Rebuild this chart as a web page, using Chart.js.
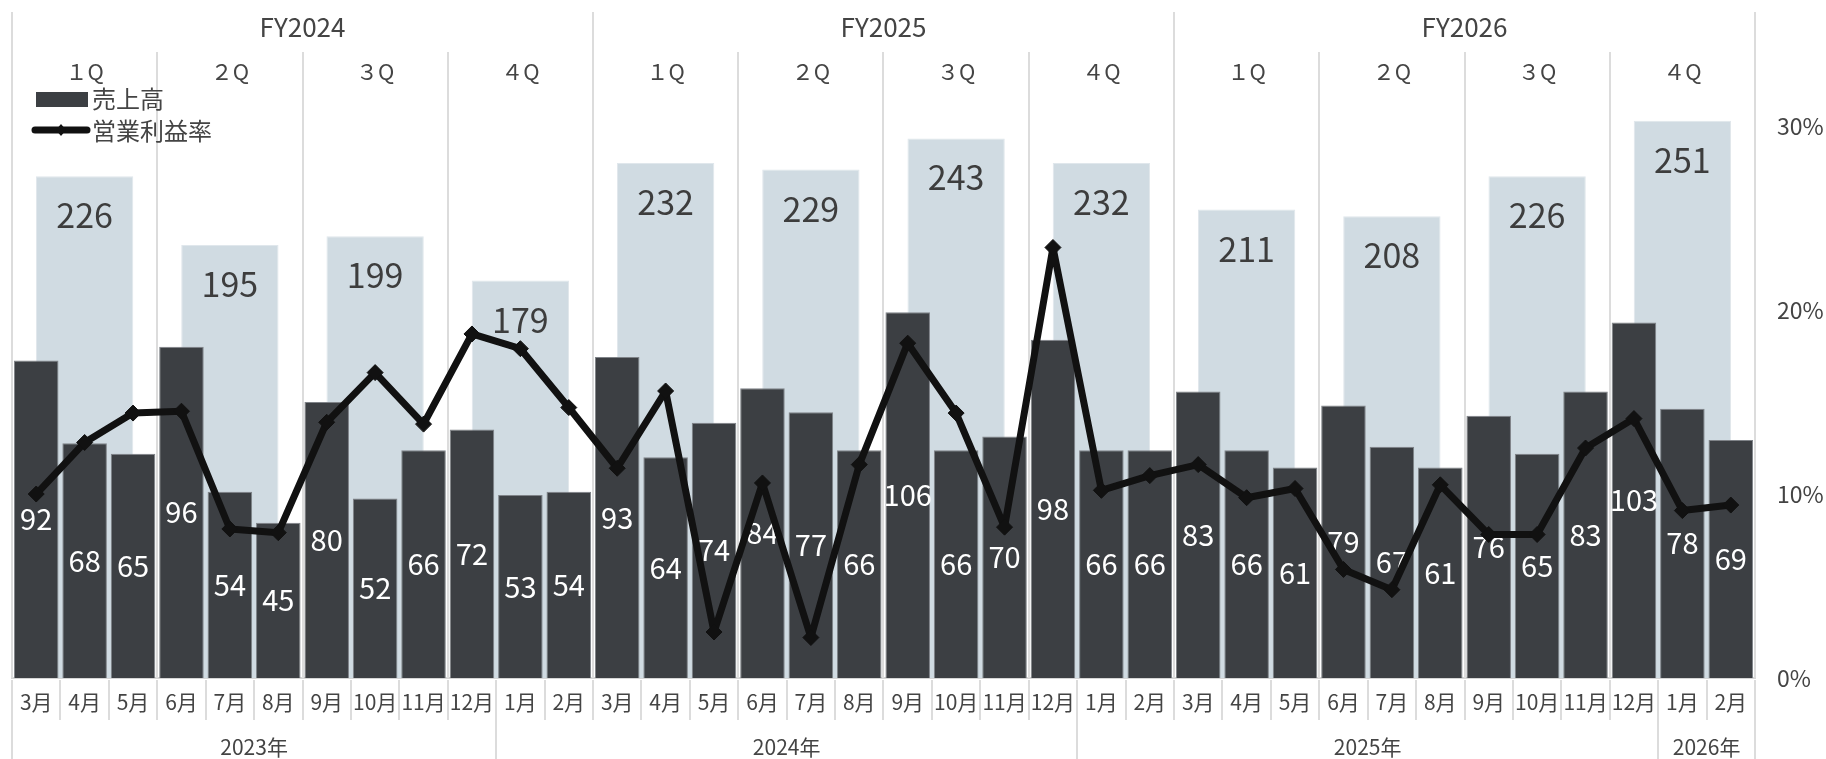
<!DOCTYPE html>
<html lang="ja">
<head>
<meta charset="utf-8">
<title>売上高・営業利益率</title>
<script src="https://cdn.jsdelivr.net/npm/chart.js@4.4.1/dist/chart.umd.min.js"></script>
<style>
  html, body { margin: 0; padding: 0; background: #fff; }
  #wrap { position: relative; width: 1826px; height: 759px; }
</style>
</head>
<body>
<div id="wrap"><canvas id="salesChart"></canvas></div>
<script>
var months = ['3月','4月','5月','6月','7月','8月','9月','10月','11月','12月',
              '1月','2月','3月','4月','5月','6月','7月','8月','9月','10月','11月','12月',
              '1月','2月','3月','4月','5月','6月','7月','8月','9月','10月','11月','12月',
              '1月','2月'];
var yearLabels = ['2023年','2024年','2025年','2026年'];
var fiscalYears = ['FY2024','FY2025','FY2026'];
var quarterNames = ['１Q','２Q','３Q','４Q'];

// 月次売上高
var monthlySales = [92, 68, 65, 96, 54, 45, 80, 52, 66, 72,
                    53, 54, 93, 64, 74, 84, 77, 66, 106, 66, 70, 98,
                    66, 66, 83, 66, 61, 79, 67, 61, 76, 65, 83, 103,
                    78, 69];
// 四半期売上高
var quarterlySales = [226, 195, 199, 179, 232, 229, 243, 232, 211, 208, 226, 251];
// 営業利益率 (%)
var marginPct = [10.0, 12.8, 14.4, 14.5, 8.1, 7.9, 13.9, 16.6, 13.8, 18.7,
                 17.9, 14.7, 11.4, 15.6, 2.5, 10.6, 2.2, 11.6, 18.2, 14.4, 8.2, 23.4,
                 10.2, 11.0, 11.6, 9.8, 10.3, 5.9, 4.8, 10.5, 7.8, 7.8, 12.5, 14.1,
                 9.1, 9.4];
var pctTicks = [0, 10, 20, 30];

var FONT = '"Noto Sans CJK JP", "Noto Sans", sans-serif';
var TEXT = '#444';
var RULE = '#dcdcdc';
var DARK = '#3c3f43';
var PALE = '#d0dbe2';
var LINE = '#111';

Chart.defaults.font.family = FONT;
Chart.defaults.color = TEXT;

var quarterKeys = [];
fiscalYears.forEach(function (fy) {
  quarterNames.forEach(function (q) { quarterKeys.push(fy + ' ' + q); });
});

function edge(scale, i) {
  // pixel of the boundary on the left of month i
  var step = scale.getPixelForValue(1) - scale.getPixelForValue(0);
  return scale.getPixelForValue(Math.min(i, months.length - 1)) + (i < months.length ? -step / 2 : step / 2);
}

// rules, fiscal-year / quarter header and calendar-year row
var framePlugin = {
  id: 'frame',
  beforeDatasetsDraw: function (chart) {
    var ctx = chart.ctx, area = chart.chartArea, x = chart.scales.x;
    var n = months.length;
    ctx.save();
    ctx.strokeStyle = RULE;
    ctx.lineWidth = 2;
    for (var i = 0; i <= n; i++) {
      var px = Math.round(edge(x, i));
      ctx.beginPath();
      if (i % 12 === 0) {
        ctx.moveTo(px, area.top);
        ctx.lineTo(px, area.bottom);
      } else if (i % 3 === 0) {
        ctx.moveTo(px, area.top + 40);
        ctx.lineTo(px, area.bottom);
      }
      var yearEdge = i === 0 || i === n || months[i] === '1月';
      ctx.moveTo(px, area.bottom + 2);
      ctx.lineTo(px, yearEdge ? chart.height : area.bottom + 42);
      ctx.stroke();
    }

    ctx.fillStyle = TEXT;
    ctx.textAlign = 'center';
    ctx.textBaseline = 'middle';
    ctx.font = '26px ' + FONT;
    fiscalYears.forEach(function (fy, k) {
      ctx.fillText(fy, (edge(x, k * 12) + edge(x, k * 12 + 12)) / 2, area.top + 15);
    });
    ctx.font = '22px ' + FONT;
    quarterKeys.forEach(function (key, k) {
      ctx.fillText(quarterNames[k % 4], (edge(x, k * 3) + edge(x, k * 3 + 3)) / 2, area.top + 60);
    });

    // calendar years start at each 1月
    var starts = [0];
    months.forEach(function (m, i) { if (i > 0 && m === '1月') starts.push(i); });
    starts.push(n);
    ctx.font = '21px ' + FONT;
    yearLabels.forEach(function (yl, k) {
      ctx.fillText(yl, (edge(x, starts[k]) + edge(x, starts[k + 1])) / 2, area.bottom + 69);
    });
    ctx.restore();
  }
};

// value labels on the bars
var valuePlugin = {
  id: 'values',
  afterDatasetDraw: function (chart, args) {
    var ds = chart.data.datasets[args.index];
    if (!ds.valueLabel) return;
    var ctx = chart.ctx, opt = ds.valueLabel;
    ctx.save();
    ctx.fillStyle = opt.color;
    ctx.font = opt.size + 'px ' + FONT;
    ctx.textAlign = 'center';
    ctx.textBaseline = 'middle';
    args.meta.data.forEach(function (bar, i) {
      var y = opt.inside ? (bar.y + bar.base) / 2 : bar.y + opt.offset;
      ctx.fillText(String(ds.data[i]), bar.x, y);
    });
    ctx.restore();
  }
};

var legendPlugin = {
  id: 'legendBox',
  afterDraw: function (chart) {
    var ctx = chart.ctx;
    var bars = chart.data.datasets[1], line = chart.data.datasets[0];
    ctx.save();
    ctx.fillStyle = bars.backgroundColor;
    ctx.fillRect(36, 92, 52, 15);
    ctx.strokeStyle = line.borderColor;
    ctx.lineWidth = 7;
    ctx.lineCap = 'round';
    ctx.beginPath();
    ctx.moveTo(35, 130);
    ctx.lineTo(87, 130);
    ctx.stroke();
    ctx.fillStyle = line.borderColor;
    ctx.beginPath();
    ctx.moveTo(61, 124); ctx.lineTo(66, 130); ctx.lineTo(61, 136); ctx.lineTo(56, 130);
    ctx.closePath();
    ctx.fill();
    ctx.fillStyle = TEXT;
    ctx.font = '24px ' + FONT;
    ctx.textAlign = 'left';
    ctx.textBaseline = 'middle';
    ctx.fillText(bars.label, 92, 99);
    ctx.fillText(line.label, 92, 131);
    ctx.restore();
  }
};

var ctx = document.getElementById('salesChart').getContext('2d');
var salesChart = new Chart(ctx, {
  type: 'bar',
  data: {
    labels: months,
    datasets: [{
      type: 'line',
      label: '営業利益率',
      data: marginPct,
      xAxisID: 'x',
      yAxisID: 'yp',
      borderColor: LINE,
      borderWidth: 7,
      borderJoinStyle: 'bevel',
      tension: 0,
      pointStyle: 'rectRot',
      pointRadius: 8,
      pointBackgroundColor: LINE,
      pointBorderColor: LINE,
      pointBorderWidth: 1,
      order: 0
    }, {
      label: '売上高',
      data: monthlySales,
      xAxisID: 'x',
      yAxisID: 'y',
      backgroundColor: DARK,
      borderColor: '#7f8388',
      borderWidth: 1,
      barPercentage: 0.92,
      categoryPercentage: 1,
      grouped: false,
      valueLabel: { color: '#fff', size: 29, inside: true },
      order: 1
    }, {
      label: '四半期売上高',
      data: quarterlySales,
      xAxisID: 'xq',
      yAxisID: 'yq',
      backgroundColor: PALE,
      borderColor: '#e0e7ec',
      borderWidth: 1,
      barPercentage: 0.67,
      categoryPercentage: 1,
      grouped: false,
      valueLabel: { color: '#3d3d3d', size: 34, offset: 39 },
      order: 2
    }]
  },
  options: {
    responsive: true,
    maintainAspectRatio: false,
    animation: false,
    layout: { padding: { left: 12, top: 12, right: 0, bottom: 0 } },
    plugins: {
      legend: { display: false },
      tooltip: { enabled: false }
    },
    scales: {
      x: {
        type: 'category',
        position: 'bottom',
        offset: true,
        grid: { display: false, drawTicks: false },
        border: { display: true, color: '#d6d6d6', width: 2 },
        ticks: { font: { size: 21 }, color: TEXT, padding: 11, autoSkip: false, maxRotation: 0, minRotation: 0 },
        afterFit: function (s) { s.height = 81; }
      },
      xq: {
        type: 'category',
        labels: quarterKeys,
        display: false,
        offset: true,
        grid: { display: false }
      },
      y: { display: false, min: 0, max: 193 },
      yq: { display: false, min: 0, max: 300 },
      yp: {
        position: 'right',
        min: 0,
        max: 36.2,
        grid: { display: false, drawTicks: false },
        border: { display: false },
        ticks: {
          padding: 22,
          font: { size: 23 },
          color: TEXT,
          callback: function (v) { return v + '%'; }
        },
        afterBuildTicks: function (s) {
          s.ticks = pctTicks.map(function (v) { return { value: v }; });
        },
        afterFit: function (s) {
          s.width = 71;
          s.paddingTop = 0;
          s.paddingBottom = 0;
        }
      }
    }
  },
  plugins: [framePlugin, valuePlugin, legendPlugin]
});
</script>
</body>
</html>
